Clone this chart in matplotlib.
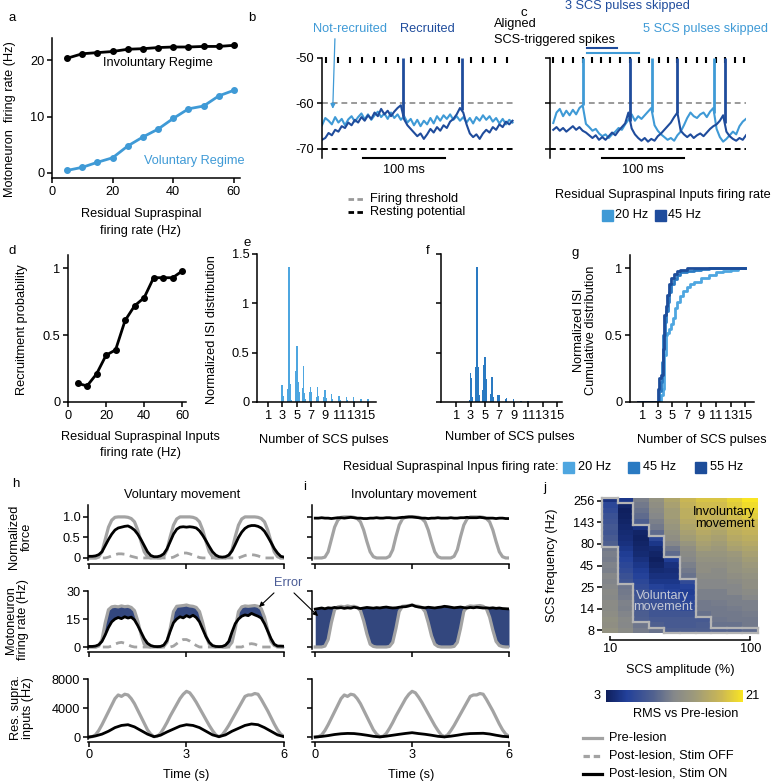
import numpy as np
import matplotlib
matplotlib.use("Agg")
import matplotlib.pyplot as plt
from matplotlib.colors import LinearSegmentedColormap, Normalize
from matplotlib.lines import Line2D
from matplotlib.patches import Rectangle
from matplotlib.collections import LineCollection

plt.rcParams['font.family'] = ['Liberation Sans', 'DejaVu Sans']
FS = 9.2
plt.rcParams['font.size'] = FS

# ---------------- DATA ----------------
# a
rate_in = [5, 10, 15, 20, 25, 30, 35, 40, 45, 50, 55, 60]
invol_rate = [20.4, 21.2, 21.4, 21.6, 22.0, 22.1, 22.3, 22.4, 22.4, 22.5, 22.5, 22.7]
vol_rate = [0.45, 1.0, 1.9, 2.7, 4.8, 6.4, 7.8, 9.7, 11.4, 11.9, 13.7, 14.7]
# b
threshold = -60
resting = -70
t_b = list(range(0, 233, 4))
vb_light = [-64.8, -63.2, -63.8, -64.6, -63.0, -64.2, -63.4, -64.8, -63.5, -62.8, -64.0, -63.0, -62.2, -63.5,
            -62.4, -63.6, -62.6, -61.8, -63.0, -62.2, -63.4, -62.0, -63.2, -62.4, -63.6, -62.8, -64.2, -63.4,
            -64.8, -63.6, -65.0, -63.8, -64.6, -63.2, -64.4, -62.8, -63.8, -62.6, -63.4, -62.4, -63.6, -62.8,
            -63.8, -63.0, -64.2, -63.2, -64.4, -63.0, -63.8, -62.6, -63.6, -62.8, -64.0, -63.2, -64.4, -63.4,
            -64.6, -63.6, -64.2]
vb_dark = [-68.0, -67.6, -66.5, -67.0, -65.8, -66.2, -65.0, -65.4, -64.2, -64.8, -63.6, -64.2, -63.0, -63.8,
           -62.6, -63.4, -62.0, -62.8, -61.2, -62.4, -61.6, -62.8, -61.8, -61.0, -60.4, -63.5, -64.8, -65.6,
           -66.4, -67.2, -66.6, -67.8, -66.8, -65.6, -66.4, -65.2, -66.0, -64.8, -65.4, -64.0, -63.4, -62.4,
           -61.0, -62.0, -64.6, -66.6, -67.4, -66.8, -67.8, -66.6, -65.8, -66.4, -65.2, -65.8, -64.6, -65.2,
           -64.0, -64.6, -63.8]
spikes_b_dark = [99, 170]
pulses_b = [4.9, 19.6, 34.3, 49.0, 63.7, 78.4, 93.1, 107.8, 122.5, 137.2, 151.9, 166.6, 181.3, 196.0, 210.7, 225.4]
scale_b = [50, 150]
# c
t_c = list(range(4, 241, 4))
vc_light = [-64.3, -62.0, -61.2, -62.8, -61.6, -62.6, -61.4, -62.4, -61.0, -60.4, -64.5, -65.2, -66.0, -65.6,
            -66.6, -67.2, -66.8, -67.6, -66.8, -66.2, -65.4, -65.8, -64.6, -63.6, -62.4, -63.8, -62.8, -63.4,
            -62.6, -61.8, -61.0, -64.8, -66.0, -66.8, -67.4, -68.0, -67.6, -68.2, -67.0, -66.2, -64.8, -63.2,
            -62.0, -62.8, -63.2, -62.4, -62.0, -63.0, -61.8, -61.0, -65.6, -67.4, -68.4, -67.8, -67.0, -66.2,
            -66.8, -65.0, -64.0, -63.4]
vc_dark = [-65.8, -65.2, -66.0, -65.4, -66.2, -65.6, -65.0, -65.8, -65.2, -66.0, -66.4, -67.0, -67.6, -67.0,
           -68.0, -67.4, -68.0, -67.2, -66.4, -67.0, -66.0, -65.2, -64.4, -62.0, -65.5, -66.8, -67.6, -68.2,
           -67.6, -68.4, -67.8, -68.2, -67.2, -66.6, -65.8, -65.0, -64.2, -63.0, -62.0, -66.0, -66.8, -67.4,
           -66.8, -67.6, -67.0, -66.6, -67.2, -66.4, -65.6, -65.0, -64.6, -63.8, -62.6, -66.2, -67.2, -67.8,
           -68.2, -67.6, -68.0, -67.0]
spikes_c_light = [40, 125, 201]
spikes_c_dark = [98, 156, 214]
pulses_c = [4, 16, 28, 40, 51, 62, 74, 86, 98, 109, 121, 133, 144, 156, 167, 180, 191, 203, 214, 226, 237]
scale_c = [64, 164]
skip_dark = [45, 82]
skip_light = [45, 109]
# d
recruit_prob = [0.14, 0.12, 0.21, 0.35, 0.39, 0.61, 0.72, 0.78, 0.93, 0.93, 0.93, 0.98]
# e
e_x = [2.95, 3.1, 3.8, 3.92, 4.05, 4.18, 4.8, 4.92, 5.05, 5.18, 5.3, 5.82, 5.95, 6.08, 6.2, 6.8, 6.92, 7.05,
       7.8, 7.92, 8.05, 8.85, 8.98, 9.1, 9.9, 10.05, 10.95, 11.1, 11.95, 12.1, 12.95, 13.1, 14.0, 15.0]
e_h = [0.17, 0.06, 0.13, 1.37, 0.18, 0.02, 0.2, 0.31, 0.57, 0.2, 0.1, 0.14, 0.36, 0.09, 0.03, 0.1, 0.15, 0.1,
       0.05, 0.15, 0.06, 0.05, 0.12, 0.04, 0.08, 0.03, 0.06, 0.02, 0.05, 0.02, 0.05, 0.01, 0.03, 0.03]
# f
f_x = [2.85, 3.0, 3.12, 3.25, 3.75, 3.9, 4.02, 4.15, 4.7, 4.85, 5.0, 5.12, 5.25, 5.85, 6.0, 6.12, 6.8, 6.95,
       7.85, 8.0, 9.0, 10.0, 11.0, 12.0]
f_h = [0.02, 0.29, 0.24, 0.05, 0.35, 1.37, 0.35, 0.07, 0.12, 0.37, 0.46, 0.23, 0.07, 0.08, 0.25, 0.05, 0.07,
       0.07, 0.03, 0.04, 0.03, 0.015, 0.01, 0.005]
# g
g20_x = [0.3, 3.3, 3.5, 3.7, 3.9, 4.1, 4.3, 4.6, 4.9, 5.1, 5.4, 5.7, 6.0, 6.5, 7.0, 7.5, 8.0, 9.0, 10.0, 11.0, 12.0, 13.0, 14.0, 15.0]
g20_y = [0, 0, 0.05, 0.1, 0.35, 0.5, 0.52, 0.55, 0.58, 0.63, 0.7, 0.75, 0.79, 0.83, 0.86, 0.88, 0.9, 0.93, 0.95, 0.97, 0.98, 0.99, 1.0, 1.0]
g45_x = [0.3, 2.9, 3.2, 3.4, 3.6, 3.8, 4.0, 4.2, 4.4, 4.6, 4.9, 5.2, 5.6, 6.0, 7, 8, 9, 10, 12, 15]
g45_y = [0, 0, 0.08, 0.15, 0.3, 0.5, 0.6, 0.68, 0.75, 0.82, 0.88, 0.92, 0.95, 0.97, 0.98, 0.99, 0.995, 1, 1, 1]
g55_x = [0.3, 2.8, 3.0, 3.2, 3.5, 3.7, 3.9, 4.1, 4.3, 4.5, 4.8, 5.2, 5.6, 6, 7, 8, 10, 15]
g55_y = [0, 0, 0.1, 0.18, 0.2, 0.4, 0.65, 0.72, 0.8, 0.88, 0.93, 0.96, 0.98, 0.99, 1, 1, 1, 1]
# h / i
t_fine = np.round(np.arange(61) * 0.1, 1)
t_coarse = np.round(np.arange(31) * 0.2, 1)
pre_force = [0, 0, 0, 0.02, 0.15, 0.45, 0.75, 0.92, 0.99, 1.0, 1.0, 1.0, 0.99, 0.96, 0.88, 0.68, 0.4, 0.15, 0.03, 0,
             0, 0, 0, 0.04, 0.2, 0.52, 0.8, 0.95, 1.0, 1.0, 1.0, 1.0, 0.99, 0.96, 0.88, 0.68, 0.4, 0.15, 0.03, 0,
             0, 0, 0, 0.04, 0.2, 0.52, 0.8, 0.95, 1.0, 1.0, 1.0, 1.0, 0.99, 0.96, 0.88, 0.68, 0.4, 0.15, 0.03, 0, 0]
off_force = [0, 0, 0, 0, 0, 0, 0.02, 0.05, 0.08, 0.1, 0.1, 0.09, 0.07, 0.04, 0.02,
             0, 0, 0, 0, 0, 0, 0, 0, 0, 0, 0, 0.02, 0.06, 0.1, 0.12, 0.12, 0.1, 0.07, 0.04, 0.01,
             0, 0, 0, 0, 0, 0, 0, 0, 0, 0, 0, 0, 0.03, 0.06, 0.08, 0.08, 0.07, 0.05, 0.02,
             0, 0, 0, 0, 0, 0, 0]
on_force_h = [0.04, 0.04, 0.05, 0.08, 0.15, 0.3, 0.45, 0.58, 0.68, 0.73,
              0.75, 0.77, 0.78, 0.74, 0.68, 0.58, 0.45, 0.3, 0.15, 0.06,
              0.03, 0.03, 0.05, 0.1, 0.22, 0.4, 0.58, 0.7, 0.75, 0.76,
              0.75, 0.76, 0.75, 0.73, 0.66, 0.55, 0.42, 0.28, 0.15, 0.07,
              0.03, 0.02, 0.03, 0.07, 0.17, 0.33, 0.5, 0.63, 0.72, 0.77,
              0.79, 0.79, 0.77, 0.73, 0.65, 0.52, 0.38, 0.23, 0.12, 0.04, 0.02]
on_force_i = [0.97, 0.97, 0.98, 0.97, 0.97, 0.96, 0.97, 0.98, 0.98, 0.97, 0.98, 0.99, 0.98, 0.97, 0.97, 0.96,
              0.96, 0.97, 0.97, 0.98, 0.97, 0.97, 0.98, 0.98, 0.97, 0.97, 0.98, 0.99, 0.99, 1.0, 1.0, 0.99,
              0.98, 0.97, 0.97, 0.96, 0.97, 0.97, 0.98, 0.97, 0.97, 0.97, 0.98, 0.97, 0.97, 0.98, 0.98, 0.99,
              0.98, 0.98, 0.98, 0.99, 0.98, 0.97, 0.97, 0.97, 0.96, 0.97, 0.97, 0.96, 0.96]
pre_rate = [0, 0, 0, 0.5, 4, 13, 20, 21.5, 21.8, 21.5, 22, 21.6, 21.8, 21.2, 19.5, 14, 7, 1.5, 0.3, 0,
            0, 0, 0, 0.3, 2.5, 10, 19, 21.8, 22, 22.2, 22.5, 22, 21.8, 21.2, 19, 13, 6, 1.5, 0.3, 0,
            0, 0, 0, 0.3, 2.5, 10, 19, 21.5, 22, 21.8, 22, 22.2, 21.8, 20.5, 16, 9, 3, 0.8, 0.2, 0, 0]
off_rate = [0, 0, 0, 0, 0, 0, 0, 0.5, 1.5, 2.2, 2.5, 2, 1.2, 0.4,
            0, 0, 0, 0, 0, 0, 0, 0, 0, 0, 0, 0, 0.5, 1.8, 3.2, 4, 4, 3.2, 2, 0.8,
            0, 0, 0, 0, 0, 0, 0, 0, 0, 0, 0, 0, 0, 0, 0.8, 1.5, 1.8, 1.5, 0.8,
            0, 0, 0, 0, 0, 0, 0, 0]
on_rate_h = [0.3, 0.3, 0.5, 1.2, 3, 6.5, 10.5, 13.5, 15, 15.8, 15.2, 16.2, 15.5, 16, 14.5, 11.5, 8, 4.5, 2, 0.8,
             0.3, 0.2, 0.3, 1, 3.5, 8.5, 13, 15, 16.2, 15.6, 16.8, 16, 17, 15.8, 13.5, 9.5, 5.5, 2.5, 0.8, 0.3,
             0.2, 0.3, 1, 3, 8, 12.5, 15, 16.5, 17.2, 16.8, 18, 17.2, 16.5, 15.5, 12.5, 8.5, 4.5, 1.5, 0.5, 0.5, 0.4]
on_rate_i = [20.3, 20.6, 20.9, 20.5, 21.0, 20.8, 21.2, 20.9, 21.1, 20.7, 21.0, 20.8, 21.3, 21.0, 20.6, 20.9,
             21.2, 21.0, 20.8, 21.1, 20.9, 21.2, 21.4, 21.1, 20.9, 21.0, 21.3, 21.5, 21.6, 22.0, 22.5, 21.8,
             21.4, 21.2, 21.0, 21.3, 21.1, 20.9, 21.2, 21.4, 21.8, 21.6, 21.3, 21.0, 21.2, 21.4, 21.1, 20.9,
             21.2, 21.0, 21.3, 21.1, 20.9, 21.0, 20.8, 21.0, 20.7, 20.9, 20.6, 20.5, 20.4]
pre_inputs = [0, 50, 300, 900, 1700, 2600, 3500, 4400, 5300, 5800, 5600, 5900, 5800, 5300, 4600, 3700, 2800,
              1900, 1000, 400, 50, 100, 500, 1200, 2000, 2900, 3700, 4500, 5300, 5900, 6300, 6100, 5500, 4800,
              4000, 3200, 2400, 1600, 900, 300, 50, 300, 900, 1600, 2400, 3200, 4000, 4800, 5600, 5800, 5800,
              6000, 5900, 5200, 4400, 3600, 2700, 1800, 1000, 400, 100]
on_inputs_h = [0, 150, 400, 800, 1300, 1600, 1700, 1400, 900, 400, 50, 250, 700, 1100, 1500, 1700, 1600, 1300,
               800, 300, 50, 300, 800, 1200, 1600, 1800, 1700, 1300, 800, 300, 50]
on_inputs_i = [0, 80, 200, 350, 450, 500, 480, 380, 250, 100, 20, 120, 250, 380, 500, 600, 480, 380, 250, 100,
               20, 120, 250, 400, 480, 500, 520, 420, 250, 100, 30]
# j
freq_labels = ['8', '14', '25', '45', '80', '143', '256']
amp_labels = ['10', '100']
rms_cols = [
    [13.5, 13.0, 13.2, 12.8, 12.5, 12.6, 12.2, 12.4, 12.0, 11.8, 12.0, 11.5, 11.7, 11.2, 11.4, 11.0, 9.0, 8.5, 8.0, 8.3, 7.8, 7.5, 7.0, 6.5, 4.5],
    [12.5, 12.0, 12.2, 11.8, 11.5, 11.6, 11.2, 11.0, 10.8, 8.0, 7.5, 7.0, 6.5, 6.0, 5.5, 5.0, 4.5, 4.2, 4.0, 3.8, 3.5, 3.3, 3.2, 3.5, 5.0],
    [11.2, 10.8, 9.0, 8.8, 8.5, 8.2, 8.0, 7.5, 7.0, 6.5, 6.0, 5.5, 5.0, 4.5, 4.0, 3.8, 3.5, 3.3, 3.5, 4.5, 9.0, 10.0, 10.5, 11.0, 11.5],
    [10.5, 9.0, 8.5, 8.0, 8.0, 7.5, 7.0, 6.5, 6.0, 5.0, 4.5, 4.0, 3.5, 3.2, 3.5, 4.0, 5.0, 6.5, 10.0, 11.0, 11.5, 12.0, 12.5, 13.0, 13.5],
    [9.0, 8.5, 8.5, 8.0, 7.5, 7.5, 7.0, 6.0, 5.5, 5.0, 4.5, 4.2, 4.5, 5.5, 10.0, 11.0, 12.0, 13.0, 13.5, 14.0, 14.5, 15.0, 15.0, 15.5, 16.0],
    [9.0, 8.5, 8.5, 8.0, 7.0, 6.5, 6.0, 5.5, 6.0, 7.0, 10.5, 11.0, 11.5, 12.0, 12.5, 13.0, 14.0, 15.0, 15.5, 16.0, 16.5, 17.0, 17.0, 17.5, 18.0],
    [9.0, 8.8, 8.5, 10.5, 11.0, 11.0, 11.5, 11.5, 12.0, 12.0, 12.5, 13.0, 13.0, 13.5, 14.0, 15.0, 15.5, 16.0, 16.5, 17.0, 17.5, 18.0, 18.0, 18.5, 19.0],
    [9.5, 10.5, 10.8, 11.0, 11.0, 11.2, 11.5, 11.5, 12.0, 12.0, 12.5, 12.5, 13.0, 13.5, 14.0, 14.5, 15.0, 15.5, 16.0, 16.5, 17.0, 17.5, 18.0, 18.5, 19.0],
    [9.5, 10.5, 11.0, 11.0, 11.2, 11.5, 11.5, 12.0, 12.0, 12.5, 13.0, 13.5, 13.5, 14.0, 14.5, 15.5, 16.0, 16.5, 17.0, 17.5, 18.0, 18.5, 19.0, 19.5, 20.0],
    [10.0, 11.0, 11.0, 11.2, 11.5, 11.5, 12.0, 12.5, 13.0, 13.0, 13.5, 14.0, 14.5, 15.0, 15.5, 16.0, 16.5, 17.0, 17.5, 18.0, 18.5, 19.5, 20.0, 20.5, 21.0],
]
vol_below = [16, 9, 2, 1, 0, 0, 0, 0, 0, 0]
inv_from = [25, 24, 20, 18, 14, 10, 3, 1, 1, 1]

# ---------------- STYLE ----------------
W, H = 776, 784
fig = plt.figure(figsize=(W / 100, H / 100), dpi=100)
C_LIGHT = '#3f9ad6'
C_DARK = '#1f4c9c'
C20, C45, C55 = '#4ea6e0', '#2a7ac2', '#1d4d9a'
GREY = '#a3a3a3'
NAVY = '#33477e'


def ax_px(l, t, r, b):
    return fig.add_axes([l / W, 1 - b / H, (r - l) / W, (b - t) / H])


def fxy(x, y):
    return (x / W, 1 - y / H)


def ftext(x, y, s, **kw):
    kw.setdefault('ha', 'center')
    kw.setdefault('va', 'center')
    fig.text(x / W, 1 - y / H, s, **kw)


def style(ax):
    for s in ['top', 'right']:
        ax.spines[s].set_visible(False)
    for s in ['left', 'bottom']:
        ax.spines[s].set_linewidth(1.1)
    ax.tick_params(width=1.1, length=3.5, pad=2, labelsize=FS)
    ax.patch.set_alpha(0)


# panel labels
for lab, x, y in [('a', 12, 18), ('b', 252, 18), ('c', 524, 13), ('d', 12, 251), ('e', 247, 243),
                  ('f', 428, 251), ('g', 575, 253), ('h', 16, 484), ('i', 305, 487), ('j', 545, 488)]:
    ftext(x, y, lab, fontsize=9.5)

# ---- a ----
ax = ax_px(52, 38, 240, 178)
style(ax)
ax.plot(rate_in, invol_rate, 'o-', color='k', lw=2, ms=4)
ax.plot(rate_in, vol_rate, 'o-', color=C_LIGHT, lw=2, ms=4)
ax.set_xlim(0, 62)
ax.set_ylim(-0.9, 24)
ax.set_xticks([0, 20, 40, 60])
ax.set_yticks([0, 10, 20])
ax.text(35, 19.5, 'Involuntary Regime', ha='center', va='center', color='k')
ax.text(47, 2.1, 'Voluntary Regime', ha='center', va='center', color=C_LIGHT)
ftext(10, 119, 'Motoneuron  firing rate (Hz)', rotation=90)
ftext(141, 214, 'Residual Supraspinal')
ftext(141, 231, 'firing rate (Hz)')


# ---- b & c ----
def mem_axes(l, r, xmax, labels):
    a = ax_px(l, 58, r, 158)
    style(a)
    a.spines['bottom'].set_visible(False)
    a.set_xticks([])
    a.set_xlim(0, xmax)
    a.set_ylim(-72, -50)
    a.set_yticks([-50, -60, -70])
    a.set_yticklabels(['-50', '-60', '-70'] if labels else [])
    a.axhline(threshold, color='#9a9a9a', ls=(0, (3, 2)), lw=1.4)
    a.axhline(resting, color='k', ls=(0, (3, 2)), lw=1.4)
    return a


axb = mem_axes(322, 515, 235, True)
axb.plot(pulses_b, [-50.45] * len(pulses_b), ls='none', marker='|', ms=4.5, mew=1.5, color='k', clip_on=False)
axb.plot(t_b, vb_light, color=C_LIGHT, lw=1.5)
axb.plot(t_b, vb_dark, color=C_DARK, lw=1.5)
axb.vlines(spikes_b_dark, np.interp(spikes_b_dark, t_b, vb_dark), -50, color=C_DARK, lw=2)
axb.plot(scale_b, [-72, -72], color='k', lw=1.5, clip_on=False)
axb.text(np.mean(scale_b), -74.6, '100 ms', ha='center', va='center')
ftext(350, 29, 'Not-recruited', color=C_LIGHT)
axb.annotate('', xy=(13, -61.8), xycoords='data', xytext=fxy(335, 36), textcoords='figure fraction',
             arrowprops=dict(arrowstyle='-|>', color=C_LIGHT, lw=0.9, mutation_scale=7))
ftext(427, 29, 'Recruited', color=C_DARK)
axb.annotate('', xy=(167, -49.8), xycoords='data', xytext=fxy(437, 36), textcoords='figure fraction',
             arrowprops=dict(arrowstyle='-|>', color=C_DARK, lw=0.9, mutation_scale=7))
fig.add_artist(Line2D([348 / W, 364 / W], [1 - 199 / H] * 2, color='#9a9a9a', ls=(0, (2, 1.2)), lw=2))
fig.add_artist(Line2D([348 / W, 364 / W], [1 - 212 / H] * 2, color='k', ls=(0, (2, 1.2)), lw=2))
ftext(370, 199, 'Firing threshold', ha='left')
ftext(370, 212, 'Resting potential', ha='left')

axc = mem_axes(550, 746, 240, False)
axc.plot(pulses_c, [-50.45] * len(pulses_c), ls='none', marker='|', ms=4.5, mew=1.5, color='k', clip_on=False)
axc.plot(t_c, vc_light, color=C_LIGHT, lw=1.5)
axc.plot(t_c, vc_dark, color=C_DARK, lw=1.5)
axc.vlines(spikes_c_light, np.interp(spikes_c_light, t_c, vc_light), -50, color=C_LIGHT, lw=2)
axc.vlines(spikes_c_dark, np.interp(spikes_c_dark, t_c, vc_dark), -50, color=C_DARK, lw=2)
axc.plot(scale_c, [-72, -72], color='k', lw=1.5, clip_on=False)
axc.text(np.mean(scale_c), -74.6, '100 ms', ha='center', va='center')
axc.plot(skip_dark, [-47.9] * 2, color=C_DARK, lw=1.5, clip_on=False)
axc.plot(skip_light, [-48.9] * 2, color=C_LIGHT, lw=1.5, clip_on=False)
ftext(494, 24, 'Aligned', ha='left')
ftext(494, 40, 'SCS-triggered spikes', ha='left')
axc.annotate('', xy=(40, -49.8), xycoords='data', xytext=fxy(578, 47), textcoords='figure fraction',
             arrowprops=dict(arrowstyle='-|>', color='k', lw=0.9, mutation_scale=7))
ftext(627, 6, '3 SCS pulses skipped', color=C_DARK)
axc.annotate('', xy=(77, -47.6), xycoords='data', xytext=fxy(613, 12), textcoords='figure fraction',
             arrowprops=dict(arrowstyle='-|>', color=C_DARK, lw=0.9, mutation_scale=7))
ftext(643, 29, '5 SCS pulses skipped', color=C_LIGHT, ha='left')
axc.annotate('', xy=(114, -48.7), xycoords='data', xytext=fxy(657, 33), textcoords='figure fraction',
             arrowprops=dict(arrowstyle='-|>', color=C_LIGHT, lw=0.9, mutation_scale=7))
ftext(663, 195, 'Residual Supraspinal Inputs firing rate')
fig.add_artist(Rectangle(fxy(602, 221), 11 / W, 11 / H, color=C_LIGHT, transform=fig.transFigure))
ftext(615, 215, '20 Hz', ha='left')
fig.add_artist(Rectangle(fxy(655, 221), 11 / W, 11 / H, color=C_DARK, transform=fig.transFigure))
ftext(668, 215, '45 Hz', ha='left')

# ---- d ----
axd = ax_px(68, 255, 186, 402)
style(axd)
axd.plot(rate_in, recruit_prob, 'o-', color='k', lw=2, ms=4)
axd.set_xlim(0, 62)
axd.set_ylim(0, 1.1)
axd.set_xticks([0, 20, 40, 60])
axd.set_yticks([0, 0.5, 1])
axd.set_yticklabels(['0', '0.5', '1'])
ftext(22, 330, 'Recruitment probability', rotation=90)
ftext(140, 437, 'Residual Supraspinal Inputs')
ftext(140, 453, 'firing rate (Hz)')

# ---- e / f ----
odd = [1, 3, 5, 7, 9, 11, 13, 15]
axe = ax_px(257, 254, 376, 402)
style(axe)
axe.bar(e_x, e_h, width=0.2, color=C20, linewidth=0)
axe.set_xlim(-0.55, 16.1)
axe.set_ylim(0, 1.5)
axe.set_yticks([0, 0.5, 1, 1.5])
axe.set_yticklabels(['0', '0.5', '1', '1.5'])
axe.set_xticks(odd)
axe.set_xticklabels([str(v) for v in odd])
ftext(212, 330, 'Normalized ISI distribution', rotation=90)
ftext(324, 440, 'Number of SCS pulses')

axf = ax_px(441, 254, 562, 402)
style(axf)
axf.bar(f_x, f_h, width=0.2, color=C45, linewidth=0)
axf.set_xlim(-1.1, 15.7)
axf.set_ylim(0, 1.5)
axf.set_yticks([0, 0.5, 1, 1.5])
axf.set_yticklabels([])
axf.set_xticks(odd)
axf.set_xticklabels([str(v) for v in odd])
ftext(510, 437, 'Number of SCS pulses')

# ---- g ----
axg = ax_px(630, 255, 754, 402)
style(axg)
axg.plot(g20_x, g20_y, color=C20, lw=2, drawstyle='steps-post')
axg.plot(g45_x, g45_y, color=C45, lw=2, drawstyle='steps-post')
axg.plot(g55_x, g55_y, color=C55, lw=2, drawstyle='steps-post')
axg.set_xlim(-0.78, 16.2)
axg.set_ylim(0, 1.1)
axg.set_yticks([0, 0.5, 1])
axg.set_yticklabels(['0', '0.5', '1'])
axg.set_xticks(odd)
axg.set_xticklabels([str(v) for v in odd])
ftext(585, 330, 'Normalized ISI\nCumulative distribution', rotation=90, linespacing=1.1)
ftext(702, 440, 'Number of SCS pulses')

# legend row
ftext(343, 467, 'Residual Supraspinal Inpus firing rate:', ha='left')
for x0, col, lab in [(563, C20, '20 Hz'), (628, C45, '45 Hz'), (695, C55, '55 Hz')]:
    fig.add_artist(Rectangle(fxy(x0, 473), 11 / W, 11 / H, color=col, transform=fig.transFigure))
    ftext(x0 + 15, 467, lab, ha='left')


# ---- h / i ----
def time_axes(l, r, t, b, x0, ylim, yt, ylab, off):
    a = ax_px(l, t, r, b)
    style(a)
    a.set_xlim(x0, 6)
    a.set_ylim(*ylim)
    a.set_xticks([0, 3, 6])
    a.set_xticklabels([])
    a.set_yticks(yt)
    a.set_yticklabels(ylab)
    a.spines['bottom'].set_position(('outward', off))
    return a


cols_x = [(88, 284, -0.03, True), (312, 509, -0.1, False)]
axes_hi = []
for l, r, x0, lab in cols_x:
    a1 = time_axes(l, r, 505, 560, x0, (-0.05, 1.29), [0, 0.5, 1], ['0', '0.5', '1.0'] if lab else [], 3)
    a2 = time_axes(l, r, 591, 649, x0, (-1.07, 30), [0, 15, 30], ['0', '15', '30'] if lab else [], 2)
    a3 = time_axes(l, r, 679, 739, x0, (-270, 8000), [0, 4000, 8000], ['0', '4000', '8000'] if lab else [], 2)
    a3.set_xticklabels(['0', '3', '6'])
    axes_hi.append((a1, a2, a3))

(h1, h2, h3), (i1, i2, i3) = axes_hi
h1.plot(t_fine, pre_force, color=GREY, lw=2.3)
h1.plot(t_fine, off_force, color=GREY, lw=2, ls=(0, (3, 2)))
h1.plot(t_fine, on_force_h, color='k', lw=2)
h2.fill_between(t_fine, pre_rate, on_rate_h, color=NAVY, lw=0)
h2.plot(t_fine, pre_rate, color=GREY, lw=2.3)
h2.plot(t_fine, off_rate, color=GREY, lw=2, ls=(0, (3, 2)))
h2.plot(t_fine, on_rate_h, color='k', lw=2)
h3.plot(t_fine, pre_inputs, color=GREY, lw=2.3)
h3.plot(t_coarse, on_inputs_h, color='k', lw=2)

i1.plot(t_fine, pre_force, color=GREY, lw=2.3)
i1.plot(t_fine, on_force_i, color='k', lw=2)
i2.fill_between(t_fine, pre_rate, on_rate_i, color=NAVY, lw=0)
i2.plot(t_fine, pre_rate, color=GREY, lw=2.3)
i2.plot(t_fine, on_rate_i, color='k', lw=2)
i3.plot(t_fine, pre_inputs, color=GREY, lw=2.3)
i3.plot(t_coarse, on_inputs_i, color='k', lw=2)

ftext(182, 495, 'Voluntary movement')
ftext(414, 495, 'Involuntary movement')
ftext(20, 537, 'Normalized\nforce', rotation=90, linespacing=1.1)
ftext(17, 620, 'Motoneuron\nfiring rate (Hz)', rotation=90, linespacing=1.1)
ftext(22, 708, 'Res. supra.\ninputs (Hz)', rotation=90, linespacing=1.1)
ftext(186, 775, 'Time (s)')
ftext(411, 775, 'Time (s)')
ftext(288, 583, 'Error', color='#4b5c96')
h2.annotate('', xy=(5.17, 20.4), xycoords='data', xytext=fxy(276, 591), textcoords='figure fraction',
            arrowprops=dict(arrowstyle='-|>', color='k', lw=0.8, mutation_scale=7))
i2.annotate('', xy=(0.15, 15.5), xycoords='data', xytext=fxy(292, 591), textcoords='figure fraction',
            arrowprops=dict(arrowstyle='-|>', color='k', lw=0.8, mutation_scale=7))

# ---- j ----
cmap = LinearSegmentedColormap.from_list('rms', [(0, '#0f1f5c'), (0.15, '#22409a'), (0.35, '#52628f'),
                                                 (0.5, '#86888a'), (0.65, '#9e9a7a'), (0.85, '#cdb952'),
                                                 (1, '#f9e523')])
rms = np.array(rms_cols).T
axj = ax_px(602, 498, 758, 633)
style(axj)
axj.imshow(rms, origin='lower', aspect='auto', extent=(-0.5, 9.5, -0.5, 24.5), cmap=cmap, vmin=3, vmax=21,
           interpolation='nearest')
axj.spines['left'].set_visible(False)
axj.spines['bottom'].set_bounds(0, 9)
axj.spines['bottom'].set_position(('outward', 5))
axj.set_yticks(np.arange(0, 25, 4))
axj.set_yticklabels(freq_labels)
axj.set_xticks([0, 9])
axj.set_xticklabels(amp_labels)
axj.tick_params(axis='x', direction='in', length=3)
mask = np.zeros((25, 10), bool)
for c in range(10):
    mask[vol_below[c]:inv_from[c], c] = True
segs = []
for r in range(25):
    for c in range(10):
        if not mask[r, c]:
            continue
        x0, x1, y0, y1 = c - 0.5, c + 0.5, r - 0.5, r + 0.5
        if c == 0 or not mask[r, c - 1]:
            segs.append([(x0, y0), (x0, y1)])
        if c == 9 or not mask[r, c + 1]:
            segs.append([(x1, y0), (x1, y1)])
        if r == 0 or not mask[r - 1, c]:
            segs.append([(x0, y0), (x1, y0)])
        if r == 24 or not mask[r + 1, c]:
            segs.append([(x0, y1), (x1, y1)])
axj.add_collection(LineCollection(segs, colors='#b5b5b5', linewidths=1.6, capstyle='projecting', clip_on=False))
axj.set_xlim(-0.5, 9.5)
axj.set_ylim(-0.5, 24.5)
axj.text(0.981, 0.852, 'Involuntary\nmovement', transform=axj.transAxes, ha='right', va='center',
         linespacing=0.9, color='k')
axj.text(0.391, 0.23, 'Voluntary\nmovement', transform=axj.transAxes, ha='center', va='center',
         linespacing=0.9, color='#c4c8d4')
ftext(552, 565, 'SCS frequency (Hz)', rotation=90)
ftext(680, 670, 'SCS amplitude (%)')

cax = ax_px(606, 690, 743, 702)
sm = matplotlib.cm.ScalarMappable(norm=Normalize(3, 21), cmap=cmap)
cb = fig.colorbar(sm, cax=cax, orientation='horizontal')
cb.set_ticks([])
cb.outline.set_visible(False)
ftext(601, 696, '3', ha='right')
ftext(745, 696, '21', ha='left')
ftext(686, 714, 'RMS vs Pre-lesion')

for y, col, ls, lab in [(738, GREY, '-', 'Pre-lesion'), (756, GREY, (0, (2, 1.2)), 'Post-lesion, Stim OFF'),
                        (774, 'k', '-', 'Post-lesion, Stim ON')]:
    fig.add_artist(Line2D([583 / W, 602 / W], [1 - y / H] * 2, color=col, ls=ls, lw=2.3))
    ftext(609, y, lab, ha='left')

fig.savefig('out.png', dpi=100)
